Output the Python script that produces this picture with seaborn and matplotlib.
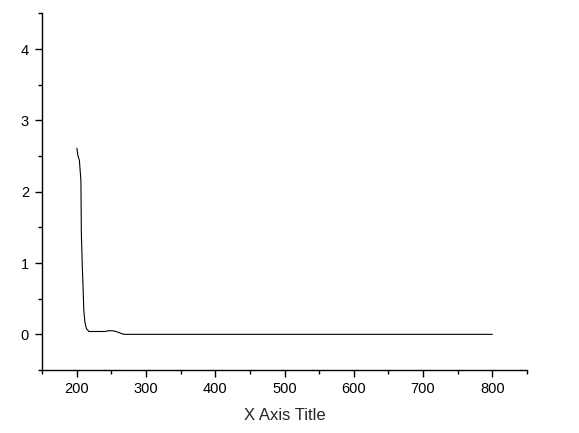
import numpy as np
import pandas as pd
import matplotlib
matplotlib.use("Agg")
import matplotlib.pyplot as plt
from matplotlib.ticker import MultipleLocator
import seaborn as sns

# values
wavelength = [200, 201.4, 203.6, 205.8, 206.5, 208, 208.7, 210, 211.6, 213.8,
              217.4, 230, 240.6, 245, 252, 256.5, 262, 268, 300, 400, 500,
              600, 700, 800]
signal = [2.61, 2.51, 2.44, 2.16, 1.39, 0.90, 0.72, 0.34, 0.17, 0.08,
          0.04, 0.04, 0.04, 0.05, 0.05, 0.04, 0.02, 0.0, 0.0, 0.0, 0.0,
          0.0, 0.0, 0.0]
x_title = "X Axis Title"

sns.set_style("ticks")
plt.rcParams['font.family'] = ['Liberation Sans', 'DejaVu Sans']

df = pd.DataFrame({"x": wavelength, "y": signal})

fig = plt.figure(figsize=(5.79, 4.33), dpi=100)
ax = fig.add_axes([0.073, 0.1455, 0.837, 0.8235])

sns.lineplot(data=df, x="x", y="y", sort=False, color="black",
             linewidth=0.8, ax=ax)

ax.set_xlim(150, 850)
ax.set_ylim(-0.5, 4.5)
ax.xaxis.set_major_locator(MultipleLocator(100))
ax.xaxis.set_minor_locator(MultipleLocator(50))
ax.yaxis.set_major_locator(MultipleLocator(1))
ax.yaxis.set_minor_locator(MultipleLocator(0.5))

sns.despine(ax=ax)
for side in ("left", "bottom"):
    ax.spines[side].set_linewidth(1.0)
    ax.spines[side].set_color("black")

ax.tick_params(which="major", length=5, width=1.0, color="black",
               labelsize=10.5, labelcolor="black")
ax.tick_params(which="minor", length=3, width=1.0, color="black")
ax.tick_params(axis="y", which="major", pad=4.5)
ax.tick_params(axis="x", which="major", pad=4)

ax.set_xlabel(x_title, fontsize=12, labelpad=8)
ax.set_ylabel("")

fig.savefig("out.png", dpi=100)
